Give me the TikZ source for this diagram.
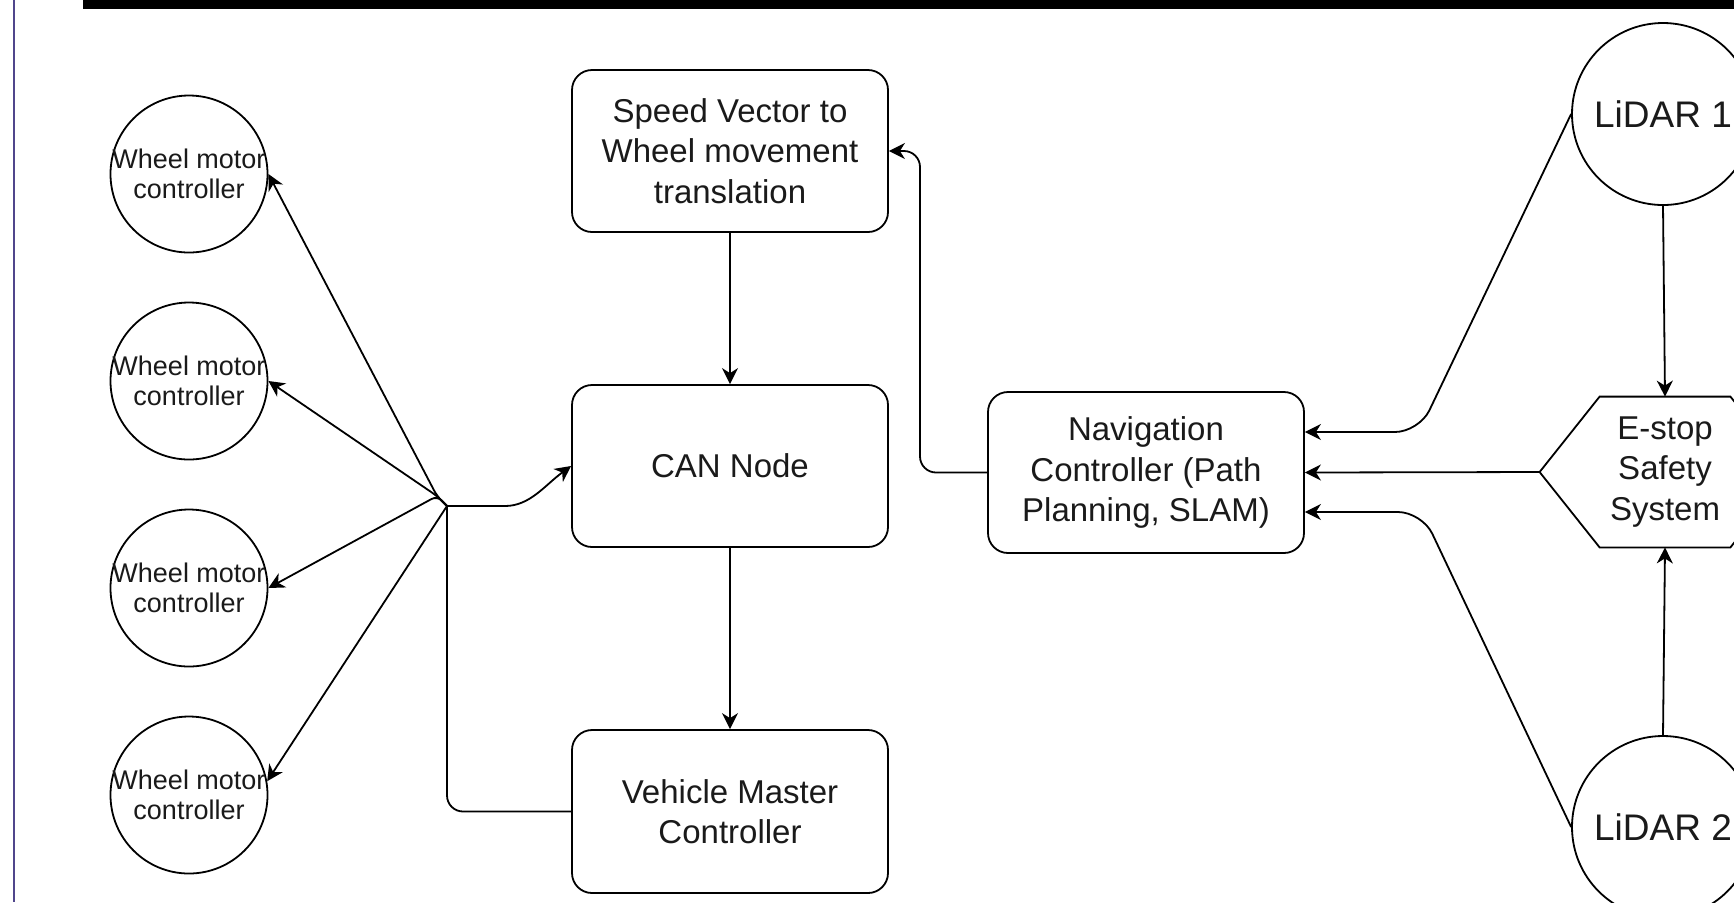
\documentclass[tikz,border=0pt]{standalone}
\usepackage{fontspec}
\setmainfont{Liberation Sans}
\usetikzlibrary{arrows.meta,calc}
\definecolor{edgepurple}{RGB}{80,70,140}
\definecolor{inkc}{RGB}{26,26,26}
\tikzset{
  box/.style={draw, rounded corners=10pt, minimum width=158pt, minimum height=81pt, align=center, font=\fontsize{16.5}{20.25}\selectfont, line width=0.9pt, inner sep=2pt, text=inkc},
  wheel/.style={draw, circle, minimum size=78.5pt, inner sep=0pt, line width=0.9pt},
  wtext/.style={align=center, font=\fontsize{13.5}{15}\selectfont, inner sep=0pt, text=inkc},
  lidar/.style={draw, circle, minimum size=91pt, inner sep=0pt, line width=0.9pt, font=\fontsize{18.5}{22}\selectfont, text=inkc},
  hextext/.style={align=center, font=\fontsize{16.5}{20.25}\selectfont, minimum width=65pt, minimum height=75pt, inner sep=0pt, text=inkc},
  conn/.style={line width=0.9pt},
  arr/.style={conn, -{Stealth[length=8pt,width=8pt,inset=2.5pt]}},
}
\begin{document}
\begin{tikzpicture}[x=0.5pt,y=-0.5pt]
\useasboundingbox (0,0) rectangle (1734,902);
\clip (0,0) rectangle (1734,902);
\fill[white] (0,0) rectangle (1734,902);
\fill[black] (83,0) rectangle (1734,8.5);
\draw[edgepurple, line width=1pt] (14,0) -- (14,902);

% boxes
\node[box] (speed) at (730,151) {Speed Vector to\\Wheel movement\\translation};
\node[box] (can) at (730,466) {CAN Node};
\node[box, minimum height=81.5pt] (vm) at (730,811.5) {Vehicle Master\\Controller};
\node[box, minimum height=80.5pt] (nav) at (1146,472.5) {Navigation\\Controller (Path\\Planning, SLAM)};

% wheel motor controllers
\foreach \i/\y in {1/174,2/381,3/588,4/795} {
  \node[wheel] (c\i) at (189,\y) {};
  \node[wtext] (c\i t) at (c\i) {Wheel motor\\controller};
}

% lidars
\node[lidar] (l1) at (1663,114) {LiDAR 1};
\node[lidar] (l2) at (1663,827) {LiDAR 2};

% e-stop hexagon
\node[hextext] (estop) at (1665,472) {E-stop\\Safety\\System};
\coordinate (etip) at ($(estop.west)+(-60,0)$);
\coordinate (etipr) at ($(estop.east)+(60,0)$);
\draw[conn] (estop.north west) -- (estop.north east) -- (etipr) -- (estop.south east) -- (estop.south west) -- (etip) -- cycle;

% connectors on the right
\draw[arr] (l1.south) -- (estop.north);
\draw[arr] (l2.north) -- (estop.south);
\draw[arr] (etip) -- (nav.east);
\draw[arr, rounded corners=12pt] (l1.west) -- (1419,432) -- ($(nav.east)+(0,-40.5)$);
\draw[arr, rounded corners=12pt] (l2.west) -- (1422,512) -- ($(nav.east)+(0,39.5)$);

% navigation to speed vector
\draw[arr, rounded corners=8pt] (nav.west) -- (920,472.5) |- (speed.east);

% vertical chain
\draw[arr] (speed.south) -- (can.north);
\draw[arr] (can.south) -- (vm.north);

% junction and wheel links
\coordinate (J) at (447,506);
\coordinate (K) at (437,496);
\draw[conn, rounded corners=8pt] (vm.west) -| (J);
\draw[arr] (J) -- (505,506) .. controls (530,506) and (545,485) .. (can.west);
\foreach \i in {1,2,3} {
  \draw[arr, rounded corners=3pt] (J) -- (K) -- (c\i.east);
}
\draw[arr] (J) -- (c4.10);
\end{tikzpicture}
\end{document}
